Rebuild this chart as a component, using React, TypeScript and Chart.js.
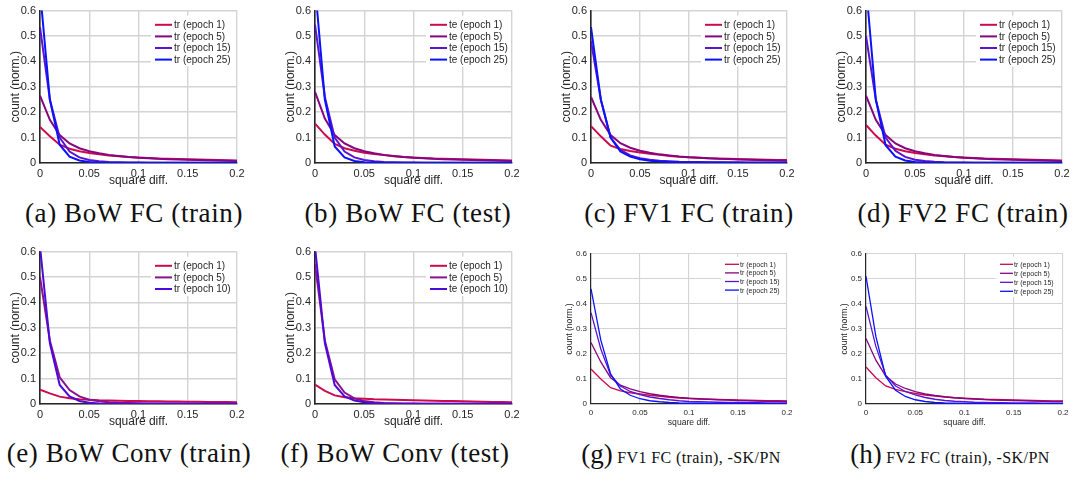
import React, { useEffect, useRef } from 'react';
import { Chart, registerables } from 'chart.js';

Chart.register(...registerables);

// Histogram bins of the squared difference (x axis)
const diffBins = [0, 0.01, 0.02, 0.03, 0.04, 0.05, 0.06, 0.07, 0.08, 0.09, 0.1, 0.11, 0.12, 0.13, 0.14, 0.15, 0.16, 0.17, 0.18, 0.19, 0.2];

const xTickValues = [0, 0.05, 0.1, 0.15, 0.2];
const xTickLabels = ['0', '0.05', '0.1', '0.15', '0.2'];
const yTickValues = [0, 0.1, 0.2, 0.3, 0.4, 0.5, 0.6];
const yTickLabels = ['0', '0.1', '0.2', '0.3', '0.4', '0.5', '0.6'];

// (a) BoW FC, train
const bowFcTrainEp1 = [0.142, 0.105, 0.072, 0.056, 0.046, 0.039, 0.034, 0.03, 0.027, 0.024, 0.022, 0.02, 0.018, 0.017, 0.016, 0.015, 0.014, 0.013, 0.012, 0.011, 0.01];
const bowFcTrainEp5 = [0.265, 0.17, 0.11, 0.077, 0.058, 0.046, 0.038, 0.032, 0.028, 0.024, 0.021, 0.019, 0.017, 0.015, 0.014, 0.013, 0.012, 0.011, 0.01, 0.009, 0.008];
const bowFcTrainEp15 = [0.535, 0.25, 0.1, 0.045, 0.022, 0.012, 0.007, 0.004, 0.003, 0.002, 0.0015, 0.001, 0.001, 0.001, 0.001, 0.0008, 0.0008, 0.0007, 0.0007, 0.0006, 0.0006];
const bowFcTrainEp25 = [0.68, 0.25, 0.072, 0.025, 0.01, 0.004, 0.002, 0.001, 0.001, 0.0008, 0.0007, 0.0006, 0.0006, 0.0005, 0.0005, 0.0005, 0.0005, 0.0005, 0.0005, 0.0005, 0.0005];

// (b) BoW FC, test
const bowFcTestEp1 = [0.155, 0.112, 0.075, 0.058, 0.048, 0.04, 0.035, 0.031, 0.027, 0.024, 0.022, 0.02, 0.018, 0.017, 0.016, 0.015, 0.014, 0.013, 0.012, 0.011, 0.01];
const bowFcTestEp5 = [0.28, 0.175, 0.11, 0.077, 0.058, 0.046, 0.038, 0.032, 0.028, 0.024, 0.021, 0.019, 0.017, 0.015, 0.014, 0.013, 0.012, 0.011, 0.01, 0.009, 0.008];
const bowFcTestEp15 = [0.545, 0.26, 0.1, 0.045, 0.022, 0.012, 0.007, 0.004, 0.003, 0.002, 0.0015, 0.001, 0.001, 0.001, 0.001, 0.0008, 0.0008, 0.0007, 0.0007, 0.0006, 0.0006];
const bowFcTestEp25 = [0.7, 0.25, 0.065, 0.022, 0.008, 0.003, 0.002, 0.001, 0.001, 0.0008, 0.0007, 0.0006, 0.0006, 0.0005, 0.0005, 0.0005, 0.0005, 0.0005, 0.0005, 0.0005, 0.0005];

// (c) FV1 FC, train
const fv1FcTrainEp1 = [0.145, 0.105, 0.068, 0.055, 0.047, 0.041, 0.036, 0.032, 0.028, 0.025, 0.023, 0.021, 0.019, 0.018, 0.017, 0.016, 0.015, 0.014, 0.013, 0.012, 0.012];
const fv1FcTrainEp5 = [0.26, 0.17, 0.11, 0.078, 0.06, 0.048, 0.04, 0.034, 0.03, 0.026, 0.023, 0.021, 0.019, 0.017, 0.016, 0.014, 0.013, 0.012, 0.011, 0.01, 0.009];
const fv1FcTrainEp15 = [0.48, 0.25, 0.1, 0.052, 0.03, 0.019, 0.013, 0.009, 0.007, 0.005, 0.004, 0.0035, 0.003, 0.003, 0.0025, 0.0025, 0.002, 0.002, 0.002, 0.002, 0.002];
const fv1FcTrainEp25 = [0.535, 0.25, 0.1, 0.045, 0.025, 0.015, 0.009, 0.006, 0.004, 0.003, 0.002, 0.002, 0.0015, 0.0015, 0.001, 0.001, 0.001, 0.001, 0.001, 0.001, 0.001];

// (d) FV2 FC, train
const fv2FcTrainEp1 = [0.15, 0.108, 0.072, 0.056, 0.046, 0.039, 0.034, 0.03, 0.027, 0.024, 0.022, 0.02, 0.018, 0.017, 0.016, 0.015, 0.014, 0.013, 0.012, 0.011, 0.01];
const fv2FcTrainEp5 = [0.265, 0.17, 0.11, 0.077, 0.058, 0.046, 0.038, 0.032, 0.028, 0.024, 0.021, 0.019, 0.017, 0.015, 0.014, 0.013, 0.012, 0.011, 0.01, 0.009, 0.008];
const fv2FcTrainEp15 = [0.5, 0.25, 0.1, 0.048, 0.024, 0.013, 0.008, 0.005, 0.003, 0.002, 0.0015, 0.001, 0.001, 0.001, 0.001, 0.0008, 0.0008, 0.0007, 0.0007, 0.0006, 0.0006];
const fv2FcTrainEp25 = [0.7, 0.25, 0.07, 0.025, 0.01, 0.004, 0.002, 0.001, 0.001, 0.0008, 0.0007, 0.0006, 0.0006, 0.0005, 0.0005, 0.0005, 0.0005, 0.0005, 0.0005, 0.0005, 0.0005];

// (e) BoW Conv, train
const bowConvTrainEp1 = [0.056, 0.042, 0.029, 0.023, 0.019, 0.017, 0.015, 0.014, 0.013, 0.012, 0.012, 0.011, 0.011, 0.01, 0.01, 0.009, 0.009, 0.008, 0.008, 0.008, 0.007];
const bowConvTrainEp5 = [0.5, 0.25, 0.105, 0.055, 0.03, 0.017, 0.011, 0.007, 0.005, 0.004, 0.003, 0.002, 0.002, 0.0015, 0.0015, 0.001, 0.001, 0.001, 0.001, 0.001, 0.001];
const bowConvTrainEp10 = [0.62, 0.24, 0.075, 0.03, 0.012, 0.005, 0.002, 0.001, 0.001, 0.0008, 0.0007, 0.0006, 0.0006, 0.0005, 0.0005, 0.0005, 0.0005, 0.0005, 0.0005, 0.0005, 0.0005];

// (f) BoW Conv, test
const bowConvTestEp1 = [0.076, 0.052, 0.034, 0.027, 0.023, 0.021, 0.019, 0.018, 0.017, 0.016, 0.015, 0.014, 0.013, 0.012, 0.012, 0.011, 0.01, 0.009, 0.008, 0.008, 0.007];
const bowConvTestEp5 = [0.55, 0.25, 0.097, 0.045, 0.022, 0.012, 0.007, 0.004, 0.003, 0.002, 0.0015, 0.001, 0.001, 0.001, 0.001, 0.0008, 0.0008, 0.0007, 0.0007, 0.0006, 0.0006];
const bowConvTestEp10 = [0.62, 0.24, 0.075, 0.03, 0.014, 0.007, 0.003, 0.002, 0.001, 0.0008, 0.0007, 0.0006, 0.0006, 0.0005, 0.0005, 0.0005, 0.0005, 0.0005, 0.0005, 0.0005, 0.0005];

// (g) FV1 FC, train, without SK/PN
const fv1NoSkTrainEp1 = [0.14, 0.1, 0.065, 0.052, 0.045, 0.04, 0.035, 0.031, 0.027, 0.024, 0.022, 0.02, 0.019, 0.018, 0.017, 0.016, 0.015, 0.014, 0.013, 0.013, 0.012];
const fv1NoSkTrainEp5 = [0.245, 0.168, 0.105, 0.075, 0.06, 0.049, 0.041, 0.035, 0.03, 0.026, 0.023, 0.021, 0.019, 0.017, 0.016, 0.014, 0.013, 0.012, 0.011, 0.011, 0.01];
const fv1NoSkTrainEp15 = [0.365, 0.22, 0.115, 0.072, 0.05, 0.037, 0.028, 0.022, 0.017, 0.013, 0.01, 0.009, 0.008, 0.007, 0.006, 0.006, 0.005, 0.005, 0.004, 0.004, 0.004];
const fv1NoSkTrainEp25 = [0.46, 0.255, 0.12, 0.06, 0.035, 0.021, 0.013, 0.009, 0.006, 0.004, 0.003, 0.003, 0.002, 0.002, 0.002, 0.002, 0.002, 0.002, 0.001, 0.001, 0.001];

// (h) FV2 FC, train, without SK/PN
const fv2NoSkTrainEp1 = [0.148, 0.105, 0.072, 0.058, 0.049, 0.042, 0.036, 0.032, 0.028, 0.025, 0.023, 0.021, 0.019, 0.018, 0.017, 0.016, 0.015, 0.014, 0.013, 0.012, 0.012];
const fv2NoSkTrainEp5 = [0.262, 0.175, 0.112, 0.08, 0.062, 0.049, 0.04, 0.034, 0.029, 0.025, 0.022, 0.02, 0.018, 0.016, 0.015, 0.014, 0.013, 0.012, 0.011, 0.01, 0.01];
const fv2NoSkTrainEp15 = [0.39, 0.23, 0.115, 0.072, 0.05, 0.036, 0.026, 0.019, 0.014, 0.011, 0.009, 0.007, 0.006, 0.005, 0.005, 0.004, 0.004, 0.004, 0.003, 0.003, 0.003];
const fv2NoSkTrainEp25 = [0.51, 0.27, 0.11, 0.055, 0.03, 0.017, 0.01, 0.006, 0.004, 0.003, 0.002, 0.002, 0.0015, 0.0015, 0.001, 0.001, 0.001, 0.001, 0.001, 0.001, 0.001];

const fcEpochs = ['epoch 1', 'epoch 5', 'epoch 15', 'epoch 25'];
const convEpochs = ['epoch 1', 'epoch 5', 'epoch 10'];

// line colours, red (early) to blue (late)
const fcColors = ['#cc0a4c', '#85067f', '#5a14cf', '#0a12ff'];
const convColors = ['#cc0a4c', '#8a1290', '#4c0ad8'];

const SANS = '"Liberation Sans", Arial, Helvetica, sans-serif';
const SERIF = '"Liberation Serif", "Times New Roman", serif';
const INK = '#262626';
const GRID = '#d4d4d4';

interface SeriesSpec { label: string; values: number[]; color: string }
interface LegendGeom { lineFrom: number; lineTo: number; textAt: number; rowTop: number; rowStep: number; boxLeft: number; boxTop: number; boxBottom: number }
interface PanelSpec {
  key: string;
  area: { left: number; top: number; right: number; bottom: number };
  compact: boolean;
  series: SeriesSpec[];
  legend: LegendGeom;
  tag: string;
  text: string;
  captionCenter: number;
  captionTop: number;
}

const mkSeries = (prefix: string, epochs: string[], values: number[][], colors: string[]): SeriesSpec[] =>
  epochs.map((e, i) => ({ label: `${prefix} (${e})`, values: values[i], color: colors[i] }));

const fullLegend = (rows: number): LegendGeom => ({
  lineFrom: -82, lineTo: -65, textAt: -63, rowTop: 14.2, rowStep: 11.6,
  boxLeft: -86, boxTop: 5, boxBottom: 14.2 + (rows - 1) * 11.6 + 7,
});

const panels: PanelSpec[] = [
  {
    key: 'a', area: { left: 40, top: 7, right: 237, bottom: 163 }, compact: false,
    series: mkSeries('tr', fcEpochs, [bowFcTrainEp1, bowFcTrainEp5, bowFcTrainEp15, bowFcTrainEp25], fcColors),
    legend: fullLegend(4), tag: '(a)', text: ' BoW FC (train)', captionCenter: 134, captionTop: 198,
  },
  {
    key: 'b', area: { left: 315, top: 7, right: 512, bottom: 163 }, compact: false,
    series: mkSeries('te', fcEpochs, [bowFcTestEp1, bowFcTestEp5, bowFcTestEp15, bowFcTestEp25], fcColors),
    legend: fullLegend(4), tag: '(b)', text: ' BoW FC (test)', captionCenter: 408, captionTop: 198,
  },
  {
    key: 'c', area: { left: 591, top: 7, right: 787, bottom: 163 }, compact: false,
    series: mkSeries('tr', fcEpochs, [fv1FcTrainEp1, fv1FcTrainEp5, fv1FcTrainEp15, fv1FcTrainEp25], fcColors),
    legend: fullLegend(4), tag: '(c)', text: ' FV1 FC (train)', captionCenter: 689, captionTop: 198,
  },
  {
    key: 'd', area: { left: 866, top: 7, right: 1062, bottom: 163 }, compact: false,
    series: mkSeries('tr', fcEpochs, [fv2FcTrainEp1, fv2FcTrainEp5, fv2FcTrainEp15, fv2FcTrainEp25], fcColors),
    legend: fullLegend(4), tag: '(d)', text: ' FV2 FC (train)', captionCenter: 963, captionTop: 198,
  },
  {
    key: 'e', area: { left: 40, top: 248, right: 237, bottom: 404 }, compact: false,
    series: mkSeries('tr', convEpochs, [bowConvTrainEp1, bowConvTrainEp5, bowConvTrainEp10], convColors),
    legend: fullLegend(3), tag: '(e)', text: ' BoW Conv (train)', captionCenter: 129, captionTop: 438,
  },
  {
    key: 'f', area: { left: 315, top: 248, right: 512, bottom: 404 }, compact: false,
    series: mkSeries('te', convEpochs, [bowConvTestEp1, bowConvTestEp5, bowConvTestEp10], convColors),
    legend: fullLegend(3), tag: '(f)', text: ' BoW Conv (test)', captionCenter: 395, captionTop: 438,
  },
  {
    key: 'g', area: { left: 591, top: 252, right: 787, bottom: 404 }, compact: true,
    series: mkSeries('tr', fcEpochs, [fv1NoSkTrainEp1, fv1NoSkTrainEp5, fv1NoSkTrainEp15, fv1NoSkTrainEp25], fcColors),
    legend: { lineFrom: -62, lineTo: -48, textAt: -47, rowTop: 10.5, rowStep: 8.6, boxLeft: -66, boxTop: 3, boxBottom: 41 },
    tag: '(g)', text: ' FV1 FC (train), -SK/PN', captionCenter: 681, captionTop: 439,
  },
  {
    key: 'h', area: { left: 866, top: 252, right: 1063, bottom: 404 }, compact: true,
    series: mkSeries('tr', fcEpochs, [fv2NoSkTrainEp1, fv2NoSkTrainEp5, fv2NoSkTrainEp15, fv2NoSkTrainEp25], fcColors),
    legend: { lineFrom: -63, lineTo: -50, textAt: -49, rowTop: 10.5, rowStep: 9, boxLeft: -67, boxTop: 3, boxBottom: 43 },
    tag: '(h)', text: ' FV2 FC (train), -SK/PN', captionCenter: 950, captionTop: 439,
  },
];

const fullStyle = { tick: 11, title: 12, legend: 10, line: 2, grid: 1.4, border: 1.6, tickPad: 4, yTitleGap: 24, xTitleGap: 18 };
const compactStyle = { tick: 8, title: 8.6, legend: 7, line: 1.3, grid: 1.1, border: 1.2, tickPad: 4, yTitleGap: 21, xTitleGap: 19 };

const AXIS_W = 40;
const AXIS_H = 28;
const PAD_TOP = 7;
const PAD_RIGHT = 13;

function PlotPanel({ spec }: { spec: PanelSpec }) {
  const ref = useRef<HTMLCanvasElement | null>(null);
  const { left, top, right, bottom } = spec.area;
  const cw = AXIS_W + (right - left) + PAD_RIGHT;
  const ch = PAD_TOP + (bottom - top) + AXIS_H;

  useEffect(() => {
    const canvas = ref.current;
    if (!canvas) return;
    const st = spec.compact ? compactStyle : fullStyle;
    const lg = spec.legend;
    const n = spec.series.length;
    const titleLh = st.title * 1.2;

    // legend drawn inside the plot, top-right corner, over a white box
    const insetLegend = {
      id: 'insetLegend',
      afterDatasetsDraw(chart: Chart) {
        const { ctx, chartArea } = chart;
        const R = chartArea.right;
        const T = chartArea.top;
        ctx.save();
        ctx.fillStyle = '#ffffff';
        ctx.fillRect(R + lg.boxLeft, T + lg.boxTop, -lg.boxLeft - 1, lg.boxBottom - lg.boxTop);
        ctx.font = `${st.legend}px ${SANS}`;
        ctx.textBaseline = 'middle';
        ctx.textAlign = 'left';
        spec.series.forEach((s, i) => {
          const y = T + lg.rowTop + i * lg.rowStep;
          ctx.strokeStyle = s.color;
          ctx.lineWidth = st.line;
          ctx.beginPath();
          ctx.moveTo(R + lg.lineFrom, y);
          ctx.lineTo(R + lg.lineTo, y);
          ctx.stroke();
          ctx.fillStyle = INK;
          ctx.fillText(s.label, R + lg.textAt, y + 0.5);
        });
        ctx.restore();
      },
    };

    const chart = new Chart(canvas, {
      type: 'line',
      data: {
        datasets: spec.series.map((s, i) => ({
          label: s.label,
          data: diffBins.map((x, k) => ({ x, y: s.values[k] })),
          borderColor: s.color,
          backgroundColor: s.color,
          borderWidth: st.line,
          pointRadius: 0,
          tension: 0,
          fill: false,
          order: n - i,
        })),
      },
      options: {
        responsive: false,
        animation: false,
        events: [],
        layout: { padding: { top: PAD_TOP, right: PAD_RIGHT, left: 0, bottom: 0 } },
        plugins: { legend: { display: false }, tooltip: { enabled: false } },
        scales: {
          x: {
            type: 'linear',
            min: 0,
            max: 0.2,
            afterBuildTicks: (scale: any) => { scale.ticks = xTickValues.map((v) => ({ value: v })); },
            afterFit: (scale: any) => { scale.height = AXIS_H; },
            ticks: {
              autoSkip: false,
              maxRotation: 0,
              padding: st.tickPad,
              color: INK,
              font: { family: SANS, size: st.tick },
              callback: (_v: any, idx: number) => xTickLabels[idx],
            },
            grid: { color: GRID, lineWidth: st.grid, drawTicks: false },
            border: { color: INK, width: st.border },
            title: {
              display: true,
              text: 'square diff.',
              color: INK,
              font: { family: SANS, size: st.title },
              padding: { top: 0, bottom: AXIS_H - st.xTitleGap - titleLh / 2 },
            },
          },
          y: {
            type: 'linear',
            min: 0,
            max: 0.6,
            afterBuildTicks: (scale: any) => { scale.ticks = yTickValues.map((v) => ({ value: v })); },
            afterFit: (scale: any) => { scale.width = AXIS_W; },
            ticks: {
              autoSkip: false,
              padding: st.tickPad,
              color: INK,
              font: { family: SANS, size: st.tick },
              callback: (_v: any, idx: number) => yTickLabels[idx],
            },
            grid: { color: GRID, lineWidth: st.grid, drawTicks: false },
            border: { color: INK, width: st.border },
            title: {
              display: true,
              text: 'count (norm.)',
              color: INK,
              font: { family: SANS, size: st.title },
              padding: { top: AXIS_W - st.yTitleGap - titleLh / 2, bottom: 0 },
            },
          },
        },
      },
      plugins: [insetLegend],
    } as any);

    return () => chart.destroy();
  }, [spec]);

  return (
    <canvas
      ref={ref}
      width={cw}
      height={ch}
      style={{ position: 'absolute', left: left - AXIS_W, top: top - PAD_TOP, width: cw, height: ch }}
    />
  );
}

function Caption({ spec }: { spec: PanelSpec }) {
  return (
    <div
      style={{
        position: 'absolute',
        left: spec.captionCenter - 200,
        width: 400,
        top: spec.captionTop,
        textAlign: 'center',
        fontFamily: SERIF,
        fontSize: 27,
        letterSpacing: spec.compact ? 0 : 0.6,
        lineHeight: '30px',
        color: '#111',
        whiteSpace: 'nowrap',
      }}
    >
      {spec.compact ? (
        <>
          <span>{spec.tag}</span>
          <span style={{ fontSize: 16, letterSpacing: 0.4 }}>{spec.text}</span>
        </>
      ) : (
        <span>{spec.tag + spec.text}</span>
      )}
    </div>
  );
}

export default function App() {
  return (
    <div style={{ position: 'absolute', left: 0, top: 0, width: 1074, height: 478, background: '#ffffff', overflow: 'hidden' }}>
      {panels.map((p) => (
        <PlotPanel key={p.key} spec={p} />
      ))}
      {panels.map((p) => (
        <Caption key={'cap-' + p.key} spec={p} />
      ))}
    </div>
  );
}
